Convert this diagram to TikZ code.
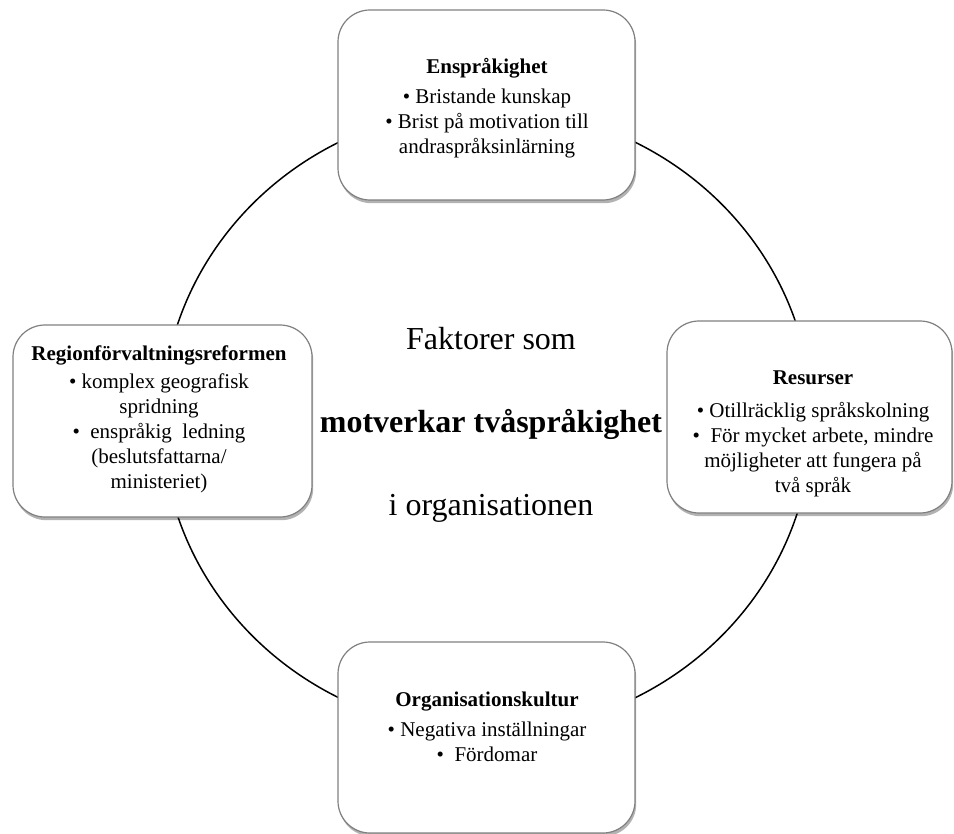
\documentclass[tikz,border=0pt]{standalone}
\usepackage{fontspec}
\setmainfont{Liberation Serif}
\usetikzlibrary{shadows}

\begin{document}
\begin{tikzpicture}[x=0.5pt, y=-0.5pt,
		factorbox/.style={draw=black!50, line width=0.6pt, fill=white, rounded corners=16pt, inner sep=0pt,
			minimum width=148.5pt, minimum height=96pt,
			drop shadow={shadow xshift=0.6pt, shadow yshift=-1.6pt, fill=black, opacity=0.3}},
		factortext/.style={anchor=north, inner sep=0pt, align=center, font=\fontsize{10.5}{12.5}\selectfont}]

				\useasboundingbox (0,0) rectangle (954,834);

				\draw [line width=0.75pt] (487,420) ellipse (325 and 312);

				\node [factorbox, minimum height=95pt] (enspBox) at (486.5,105) {};
				\node [factorbox, minimum width=149.5pt] (regionBox) at (162.5,421) {};
				\node [factorbox, minimum width=142.5pt] (resursBox) at (809.5,417) {};
				\node [factorbox, minimum height=95.5pt] (orgBox) at (486.5,737.5) {};

				\node [factortext] (enspText) at (487,58) {\textbf{Enspråkighet}\\[2.5pt]
					\textbullet\ Bristande kunskap\\ \textbullet\ Brist på motivation till\\ andraspråksinlärning};
				\node [factortext] (regionText) at (159,345) {\textbf{Regionförvaltningsreformen}\\[1.5pt]
					\textbullet\ komplex geografisk\\ spridning\\ \textbullet\ \ enspråkig\ \ ledning\\ (beslutsfattarna/\\ ministeriet)};
				\node [factortext] (resursText) at (813,370) {\textbf{Resurser}\\[4pt]
					\textbullet\ Otillräcklig språkskolning\\ \textbullet\ \ För mycket arbete, mindre\\ möjligheter att fungera på\\ två språk};
				\node [factortext] (orgText) at (487,692) {\textbf{Organisationskultur}\\[2.5pt]
					\textbullet\ Negativa inställningar\\ \textbullet\ \ Fördomar};

				\node [anchor=north, inner sep=0pt, align=center, font=\fontsize{16}{41.5}\selectfont] (centerText) at (491,327)
					{Faktorer som\\ \textbf{motverkar tvåspråkighet}\\ i organisationen};
			\end{tikzpicture}
\end{document}
